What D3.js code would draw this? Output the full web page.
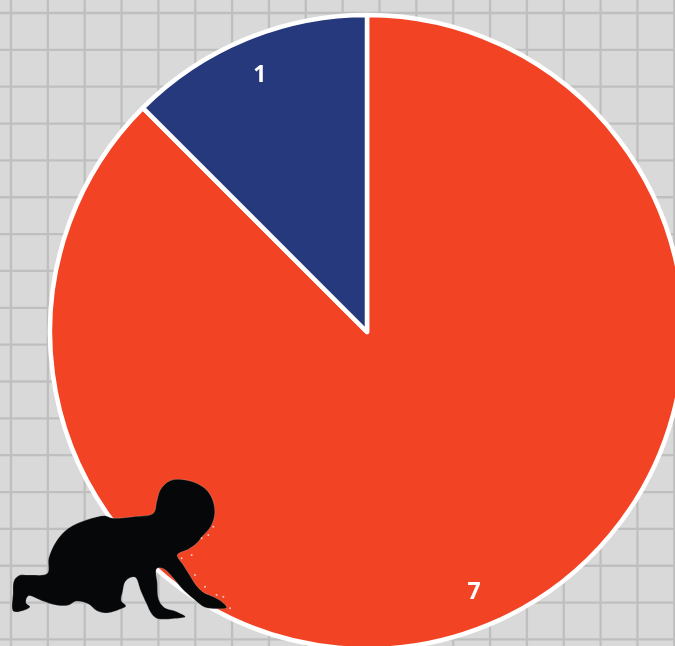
<!DOCTYPE html>
<html>
<head>
<meta charset="utf-8">
<script src="https://cdn.jsdelivr.net/npm/d3@7"></script>
<style>
html, body { margin: 0; padding: 0; background: #d9d9d9; overflow: hidden; }
svg { display: block; filter: blur(0.5px); }
</style>
</head>
<body>
<script>
const categories = ["red", "blue"];
const values = [7, 1];
const colors = ["#f24324", "#27397d"];
const gridColumns = d3.range(0, 19);
const gridRows = d3.range(0, 18);

// silhouette outline, traced on a 3x crop whose corner is at (0,460)
const babyPoints = [[510, 62], [550, 59], [590, 70], [622, 92], [640, 125], [644, 165], [632, 200], [608, 228],
    [590, 250], [565, 268], [532, 285], [550, 315], [572, 350], [592, 380], [612, 398], [640, 410], [664, 424], [680, 443],
    [640, 446], [612, 441], [582, 418], [548, 388], [512, 345], [490, 326], [470, 326], [472, 370], [476, 418],
    [492, 442], [530, 455], [556, 470], [520, 476], [472, 476], [455, 462], [440, 432], [422, 392], [405, 352],
    [378, 362], [368, 395], [364, 422], [378, 438], [360, 448], [322, 459], [290, 452], [265, 432], [228, 424],
    [205, 436], [170, 436], [125, 422], [85, 408], [78, 428], [90, 440], [75, 450], [40, 454], [39, 400], [42, 362],
    [58, 346], [90, 345], [142, 340], [146, 295], [168, 245], [205, 205], [265, 178], [315, 167], [335, 174],
    [400, 170], [460, 160], [470, 125], [482, 88]];
const speckles = [[640, 200], [625, 225], [605, 235], [575, 285], [545, 295], [585, 345], [615, 380], [650, 405], [670, 410], [690, 445]];

const width = 675, height = 646;
const svg = d3.select(document.body).append("svg")
    .attr("width", width)
    .attr("height", height);

svg.append("rect").attr("x", -5).attr("y", -5).attr("width", width + 10).attr("height", height + 10).attr("fill", "#d9d9d9");

const x = d3.scaleLinear().domain([0, 1]).range([11, 47.85]);
const y = d3.scaleLinear().domain([0, 1]).range([13, 49.85]);

svg.selectAll(".col").data(gridColumns).enter().append("line")
    .attr("x1", d => x(d)).attr("x2", d => x(d))
    .attr("y1", 0).attr("y2", height)
    .attr("stroke", "#bfbfbf").attr("stroke-width", 2.3);
svg.selectAll(".row").data(gridRows).enter().append("line")
    .attr("y1", d => y(d)).attr("y2", d => y(d))
    .attr("x1", 0).attr("x2", width)
    .attr("stroke", "#bfbfbf").attr("stroke-width", 2.3);

const radius = 317;
const pie = d3.pie().sort(null);
const arc = d3.arc().innerRadius(0).outerRadius(radius);
const g = svg.append("g").attr("transform", "translate(367,332)");
const slices = pie(values);

g.selectAll("path").data(slices).enter().append("path")
    .attr("d", arc)
    .attr("fill", (d, i) => colors[i])
    .attr("stroke", "#fff")
    .attr("stroke-width", 4.5)
    .attr("stroke-linejoin", "round");

const labelArc = d3.arc().innerRadius(280).outerRadius(280);
g.selectAll("text").data(slices).enter().append("text")
    .attr("transform", d => "translate(" + labelArc.centroid(d) + ")")
    .attr("text-anchor", "middle")
    .attr("dy", "0.36em")
    .attr("fill", "#fff")
    .attr("font-family", "'Open Sans', sans-serif")
    .attr("font-weight", 700)
    .attr("font-size", 23)
    .text(d => d.value);

const baby = svg.append("g").attr("transform", "translate(0,460) scale(0.3333)");
baby.append("path")
    .attr("d", d3.line().curve(d3.curveCatmullRomClosed.alpha(0.5))(babyPoints))
    .attr("fill", "#050708")
    .attr("stroke", "#cfcfcf")
    .attr("stroke-opacity", 0.4)
    .attr("stroke-width", 2);
baby.selectAll("circle").data(speckles).enter().append("circle")
    .attr("cx", d => d[0]).attr("cy", d => d[1]).attr("r", 3)
    .attr("fill", "#f6c9bb");
</script>
</body>
</html>
